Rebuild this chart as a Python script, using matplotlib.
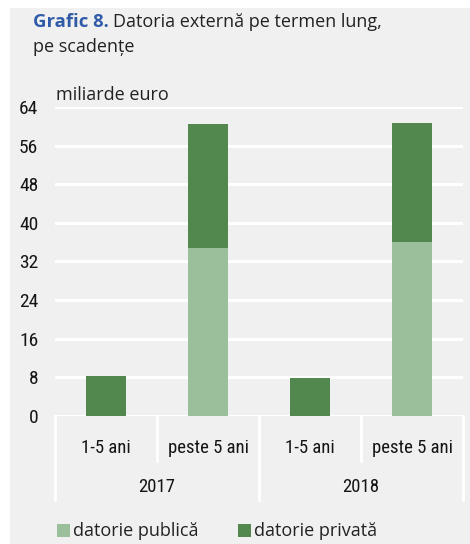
import matplotlib.pyplot as plt
from matplotlib.patches import Rectangle
from matplotlib.transforms import blended_transform_factory
import numpy as np

# data
years = ["2017", "2018"]
maturities = ["1-5 ani", "peste 5 ani"]
publica = [0.0, 34.8, 0.0, 36.1]
privata = [8.2, 25.7, 7.8, 24.5]
yticks = [0, 8, 16, 24, 32, 40, 48, 56, 64]
series_names = ["datorie publică", "datorie privată"]

light = "#9bbf9b"
dark = "#52874d"
bg = "#f0f0f0"
narrow = ["Roboto Condensed", "Liberation Sans Narrow", "Roboto", "DejaVu Sans"]
body = ["Open Sans", "DejaVu Sans"]

fig = plt.figure(figsize=(4.7, 5.44), dpi=100)
fig.patches.append(Rectangle((10 / 470, 0), 1, 1 - 8 / 544, transform=fig.transFigure,
                             facecolor=bg, edgecolor="none", zorder=-10))

ax = fig.add_axes([55 / 470, 128.3 / 544, 408 / 470, 308.7 / 544])
ax.set_facecolor("none")
for s in ax.spines.values():
    s.set_visible(False)

x = np.arange(len(publica))
ax.bar(x, publica, width=0.4, color=light, zorder=3)
ax.bar(x, privata, width=0.4, bottom=publica, color=dark, zorder=3)

ax.set_xlim(-0.5, 3.5)
ax.set_ylim(0, 64)
ax.set_yticks(yticks)
ax.set_yticklabels([str(t) for t in yticks], family=narrow, fontsize=14, color="#151515")
ax.tick_params(axis="y", length=0, pad=12)
ax.set_xticks([])
ax.yaxis.grid(True, color="white", linewidth=2.2, zorder=0)
ax.set_axisbelow(True)

# category table under the axis
tr = blended_transform_factory(ax.transData, ax.transAxes)
for xs in [-0.5, 1.5, 3.5]:
    ax.plot([xs, xs], [0, -0.273], transform=tr, color="white", lw=2, clip_on=False)
for xs in [0.5, 2.5]:
    ax.plot([xs, xs], [0, -0.147], transform=tr, color="white", lw=2, clip_on=False)
for i, xc in enumerate(x):
    ax.text(xc, -0.105, maturities[i % 2], transform=tr, ha="center", va="center",
            family=narrow, fontsize=13.5, color="#151515")
for j, yr in enumerate(years):
    ax.text(2 * j + 0.5, -0.23, yr, transform=tr, ha="center", va="center",
            family=narrow, fontsize=13.5, color="#151515")

# titles
fig.text(33 / 470, 1 - 22 / 544, "Grafic 8.", color="#2f5ba8", fontweight="bold",
         family=body, fontsize=13.3, va="center")
fig.text(113 / 470, 1 - 22 / 544, "Datoria externă pe termen lung,", color="#222222",
         family=body, fontsize=13, va="center")
fig.text(33 / 470, 1 - 47 / 544, "pe scadențe", color="#222222",
         family=body, fontsize=13, va="center")
fig.text(56 / 470, 1 - 95 / 544, "miliarde euro", color="#222222",
         family=body, fontsize=13, va="center")

# legend
for k, (name, col) in enumerate(zip(series_names, [light, dark])):
    x0 = [57, 238][k]
    fig.patches.append(Rectangle((x0 / 470, 1 - 537 / 544), 13 / 470, 13 / 544,
                                 transform=fig.transFigure, facecolor=col, edgecolor="none"))
    fig.text((x0 + 16) / 470, 1 - 531 / 544, name, color="#222222", family=body,
             fontsize=13, va="center")

fig.savefig("out.png", dpi=100, facecolor="white")
